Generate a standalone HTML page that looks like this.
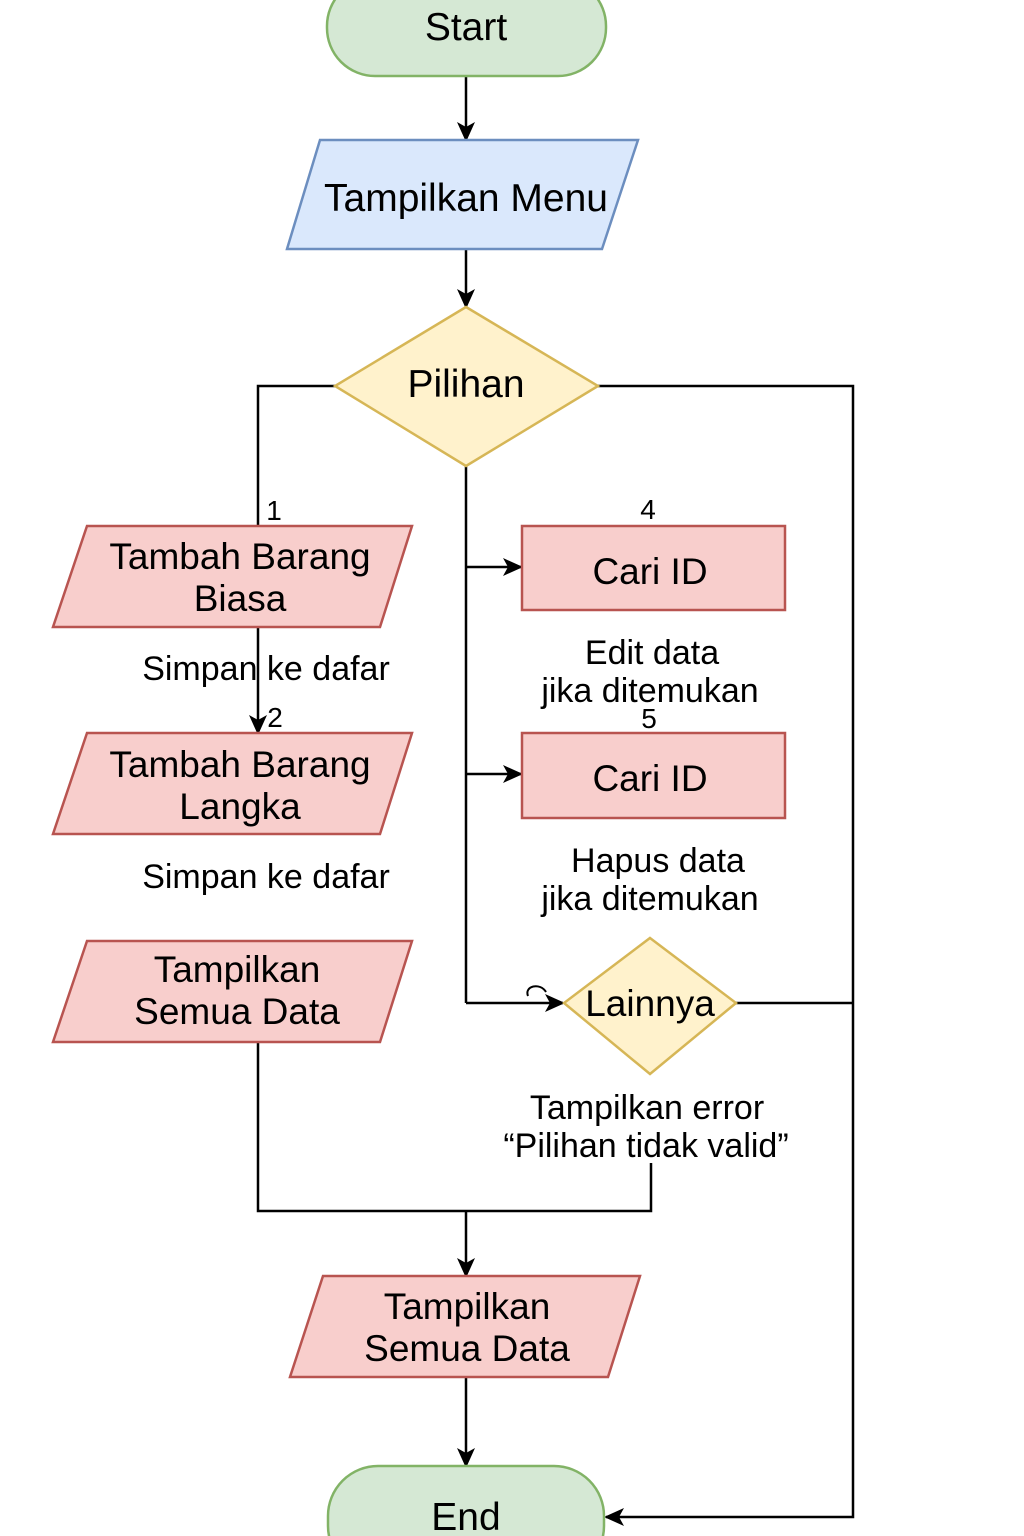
<!DOCTYPE html>
<html><head><meta charset="utf-8"><style>
html,body{margin:0;padding:0;background:#fff;}
svg{display:block;}
text{font-family:"Liberation Sans",Arial,sans-serif;fill:#000;text-anchor:middle;}
</style></head><body>
<svg width="1024" height="1536" viewBox="0 0 1024 1536" xmlns="http://www.w3.org/2000/svg">
<defs>
<marker id="b" markerWidth="20" markerHeight="20" refX="18" refY="10" orient="auto" markerUnits="userSpaceOnUse" viewBox="0 0 20 20"><path d="M0,1 L20,10 L0,19 L5,10 z" fill="#000"/></marker></defs>
<g stroke="#000" stroke-width="2.5" fill="none">
<line x1="466" y1="76" x2="466" y2="140" marker-end="url(#b)"/>
<line x1="466" y1="249" x2="466" y2="307" marker-end="url(#b)"/>
<polyline points="335,386 258,386 258,526"/>
<polyline points="598,386 853,386 853,1517 606,1517" marker-end="url(#b)"/>
<line x1="466" y1="466" x2="466" y2="1003"/>
<line x1="466" y1="567" x2="521" y2="567" marker-end="url(#b)"/>
<line x1="466" y1="774" x2="521" y2="774" marker-end="url(#b)"/>
<line x1="466" y1="1003" x2="563" y2="1003" marker-end="url(#b)"/>
<path d="M528,996 C524,986 540,982 546,992" stroke-width="2"/>
<line x1="736" y1="1003" x2="853" y2="1003"/>
<line x1="258" y1="627" x2="258" y2="733" marker-end="url(#b)"/>
<polyline points="258,1042 258,1211 651,1211 651,1163"/>
<line x1="466" y1="1211" x2="466" y2="1276" marker-end="url(#b)"/>
<line x1="466" y1="1377" x2="466" y2="1466" marker-end="url(#b)"/>
</g>
<g stroke-width="2.5">
<rect x="327" y="-22" width="279" height="98" rx="48" fill="#d5e8d4" stroke="#82b366"/>
<rect x="328" y="1466" width="276" height="110" rx="50" fill="#d5e8d4" stroke="#82b366"/>
<polygon points="320,140 638,140 602,249 287,249" fill="#dae8fc" stroke="#6c8ebf"/>
<polygon points="466,307 598,386 466,466 335,386" fill="#fff2cc" stroke="#d6b656"/>
<polygon points="650,938 736,1003 650,1074 564,1003" fill="#fff2cc" stroke="#d6b656"/>
<polygon points="87,526 412,526 380,627 53,627" fill="#f8cecc" stroke="#b85450"/>
<polygon points="87,733 412,733 380,834 53,834" fill="#f8cecc" stroke="#b85450"/>
<polygon points="87,941 412,941 380,1042 53,1042" fill="#f8cecc" stroke="#b85450"/>
<polygon points="323,1276 640,1276 608,1377 290,1377" fill="#f8cecc" stroke="#b85450"/>
<rect x="522" y="526" width="263" height="84" fill="#f8cecc" stroke="#b85450"/>
<rect x="522" y="733" width="263" height="85" fill="#f8cecc" stroke="#b85450"/>
</g>
<g font-size="39">
<text x="466" y="40">Start</text>
<text x="466" y="1530">End</text>
<text x="466" y="211">Tampilkan Menu</text>
<text x="466" y="397">Pilihan</text>
</g>
<g font-size="37">
<text x="240" y="569">Tambah Barang</text><text x="240" y="611">Biasa</text>
<text x="240" y="777">Tambah Barang</text><text x="240" y="819">Langka</text>
<text x="237" y="982">Tampilkan</text><text x="237" y="1024">Semua Data</text>
<text x="467" y="1319">Tampilkan</text><text x="467" y="1361">Semua Data</text>
<text x="650" y="584">Cari ID</text>
<text x="650" y="791">Cari ID</text>
<text x="650" y="1016">Lainnya</text>
</g>
<g font-size="34">
<text x="266" y="680">Simpan ke dafar</text>
<text x="266" y="888">Simpan ke dafar</text>
<text x="652" y="664">Edit data</text><text x="650" y="702">jika ditemukan</text>
<text x="658" y="872">Hapus data</text><text x="650" y="910">jika ditemukan</text>
<text x="647" y="1119">Tampilkan error</text><text x="646" y="1157">“Pilihan tidak valid”</text>
</g>
<g font-size="28">
<text x="274" y="520">1</text>
<text x="275" y="727">2</text>
<text x="648" y="519">4</text>
<text x="649" y="728">5</text>
</g>
</svg>
</body></html>
